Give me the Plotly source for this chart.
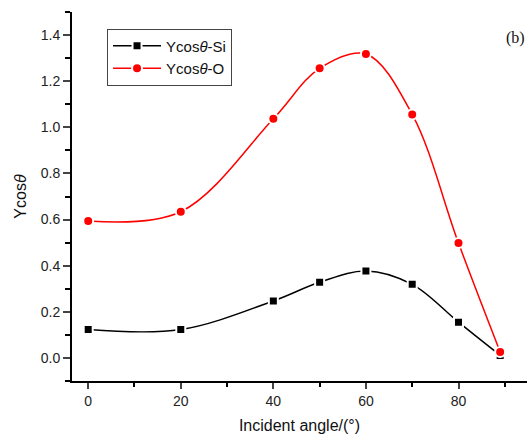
import plotly.graph_objects as go

angles = [0, 20, 40, 50, 60, 70, 80, 89]
si_values = [0.123, 0.123, 0.247, 0.328, 0.377, 0.319, 0.155, 0.011]
o_values = [0.594, 0.634, 1.037, 1.256, 1.318, 1.056, 0.498, 0.026]
x_ticks = [0, 20, 40, 60, 80]
y_ticks = [0.0, 0.2, 0.4, 0.6, 0.8, 1.0, 1.2, 1.4]

fig = go.Figure()
fig.add_trace(go.Scatter(
    x=angles, y=si_values, mode="lines+markers",
    name="Ycos<i>θ</i>-Si",
    line=dict(color="black", width=1.5, shape="spline", smoothing=1.0),
    marker=dict(symbol="square", size=9, color="black", line=dict(color="white", width=2)),
))
fig.add_trace(go.Scatter(
    x=angles, y=o_values, mode="lines+markers",
    name="Ycos<i>θ</i>-O",
    line=dict(color="#ff0000", width=1.5, shape="spline", smoothing=1.0),
    marker=dict(symbol="circle", size=10, color="#ff0000", line=dict(color="white", width=2)),
))

axis_font = dict(family="Liberation Sans, Arial", size=14, color="#222")
fig.update_layout(
    width=530, height=435,
    margin=dict(l=72, r=3, t=12, b=52),
    plot_bgcolor="white", paper_bgcolor="white",
    font=dict(family="Liberation Sans, Arial", color="#222"),
    showlegend=True,
    legend=dict(
        x=0.077, y=0.955, xanchor="left", yanchor="top",
        bordercolor="#444", borderwidth=1, bgcolor="white",
        font=dict(family="Liberation Sans, Arial", size=15, color="#111"),
        itemwidth=48, tracegroupgap=0,
    ),
    xaxis=dict(
        range=[-3.5, 94.8], tickvals=x_ticks, ticks="outside", ticklen=6, tickwidth=1.5,
        showline=True, linecolor="black", linewidth=2, showgrid=False, zeroline=False,
        tickfont=axis_font,
        minor=dict(dtick=10, ticks="outside", ticklen=4, tickwidth=1.5, tickcolor="black", showgrid=False),
        title=dict(text="Incident angle/(°)", font=dict(family="Liberation Sans, Arial", size=16, color="#111"), standoff=12),
    ),
    yaxis=dict(
        range=[-0.1, 1.5], tickvals=y_ticks, tickformat=".1f", ticks="outside", ticklen=7, tickwidth=1.5,
        showline=True, linecolor="black", linewidth=2, showgrid=False, zeroline=False,
        tickfont=axis_font,
        minor=dict(dtick=0.1, ticks="outside", ticklen=5, tickwidth=1.5, tickcolor="black", showgrid=False),
        title=dict(text="Ycos<i>θ</i>", font=dict(family="Liberation Sans, Arial", size=16, color="#111"), standoff=10),
    ),
)
fig.add_annotation(
    x=0.974, y=0.93, xref="paper", yref="paper", text="(b)", showarrow=False,
    xanchor="center", yanchor="middle",
    font=dict(family="Liberation Serif, Times New Roman", size=16, color="#111"),
)
fig.write_html(
    "out.html",
    config={"displayModeBar": False},
    post_script="document.body.style.margin='0';document.body.style.overflow='hidden';",
)
